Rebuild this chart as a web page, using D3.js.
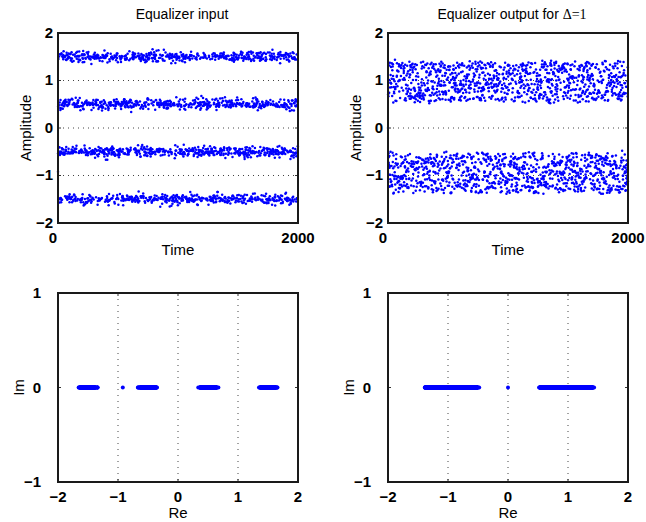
<!DOCTYPE html>
<html>
<head>
<meta charset="utf-8">
<script src="https://cdn.jsdelivr.net/npm/d3@7"></script>
<style>
  html, body { margin: 0; padding: 0; background: #fff; }
  svg { display: block; font-family: "Liberation Sans", Arial, sans-serif; }
</style>
</head>
<body>
<svg id="chart"></svg>
<script>
let blue = "#0000FF";
let frameColor = "#1a1a1a";
let gridColor = "#444";

// NOTE: the 2000 noisy samples per plot can't be read one by one from the picture.
// the dots inside each band are placed with a seeded pseudo-random generator
// (d3.randomLcg). That departs from the "no random numbers" data rule.
const nSamples = 2000;
const inputLevels = [-1.5, -0.5, 0.5, 1.5];   // 4 bands of the equalizer input
const inputNoiseSd = 0.055;                    // spread of each input band
const firstInput = -0.92;                      // lone sample at t = 0
const outputLevels = [-0.94, 0.97];            // 2 bands of the equalizer output
const outputHalfWidth = [0.42, 0.42];          // half-width of each output band
const outputNoiseSd = 0.03;
const firstOutput = 0.0;                       // lone output sample at t = 0

const timeTicks = [0, 2000];
const ampTicks = [-2, -1, 0, 1, 2];
const ampGrid = [-1, 0, 1];
const reTicks = [-2, -1, 0, 1, 2];
const reGrid = [-1, 0, 1];
const imTicks = [-1, 0, 1];

const width = 646;
const height = 522;

const lcg = d3.randomLcg(0.4217);
const normal = d3.randomNormal.source(lcg);
const uniform = d3.randomUniform.source(lcg);
const pick = d3.randomInt.source(lcg);

const inputSeries = d3.range(nSamples).map(i => {
  if (i === 0) return firstInput;
  return inputLevels[pick(0, inputLevels.length)()] + normal(0, inputNoiseSd)();
});

const outputSeries = d3.range(nSamples).map(i => {
  if (i === 0) return firstOutput;
  const k = pick(0, outputLevels.length)();
  const hw = outputHalfWidth[k];
  return outputLevels[k] + uniform(-hw, hw)() + normal(0, outputNoiseSd)();
});

const svg = d3.select("#chart")
  .attr("width", width)
  .attr("height", height);

const panels = [
  { x0: 58, x1: 298, y0: 33, y1: 223, kind: "time", data: inputSeries,
    title: [{ t: "Equalizer input" }], ylab: "Amplitude" },
  { x0: 388, x1: 628, y0: 33, y1: 223, kind: "time", data: outputSeries,
    title: [{ t: "Equalizer output for " }, { t: "\u0394=1", serif: true }], ylab: "Amplitude" },
  { x0: 58, x1: 298, y0: 293, y1: 482, kind: "plane", data: inputSeries, ylab: "Im" },
  { x0: 388, x1: 628, y0: 293, y1: 482, kind: "plane", data: outputSeries, ylab: "Im" }
];

panels.forEach(drawPanel);

function drawPanel(p) {
  const g = svg.append("g");
  const isTime = p.kind === "time";

  const xScale = d3.scaleLinear()
    .domain(isTime ? [0, nSamples] : [-2, 2])
    .range([p.x0, p.x1]);

  const yScale = d3.scaleLinear()
    .domain(isTime ? [-2, 2] : [-1, 1])
    .range([p.y1, p.y0]);

  //grid
  if (isTime) {
    g.selectAll(".hgrid")
      .data(ampGrid)
      .enter()
      .append("line")
      .attr("x1", p.x0).attr("x2", p.x1)
      .attr("y1", d => yScale(d)).attr("y2", d => yScale(d))
      .attr("stroke", gridColor)
      .attr("stroke-width", 1)
      .attr("stroke-dasharray", "1,4");
  } else {
    g.selectAll(".vgrid")
      .data(reGrid)
      .enter()
      .append("line")
      .attr("x1", d => xScale(d)).attr("x2", d => xScale(d))
      .attr("y1", p.y0).attr("y2", p.y1)
      .attr("stroke", gridColor)
      .attr("stroke-width", 1)
      .attr("stroke-dasharray", "1,5");
  }

  //inward ticks on all sides
  const xt = isTime ? timeTicks : reTicks;
  const yt = isTime ? ampTicks : imTicks;
  xt.forEach(v => {
    [[p.y1, -3], [p.y0, 3]].forEach(([y, l]) => {
      g.append("line")
        .attr("x1", xScale(v)).attr("x2", xScale(v))
        .attr("y1", y).attr("y2", y + l)
        .attr("stroke", "#333");
    });
  });
  yt.forEach(v => {
    [[p.x0, 3], [p.x1, -3]].forEach(([x, l]) => {
      g.append("line")
        .attr("x1", x).attr("x2", x + l)
        .attr("y1", yScale(v)).attr("y2", yScale(v))
        .attr("stroke", "#333");
    });
  });

  //points
  g.selectAll(".pt")
    .data(p.data)
    .enter()
    .append("circle")
    .attr("cx", (d, i) => isTime ? xScale(i) : xScale(d))
    .attr("cy", (d) => isTime ? yScale(d) : yScale(0))
    .attr("r", isTime ? 1.25 : 2)
    .attr("fill", blue);

  //frame
  g.append("rect")
    .attr("x", p.x0).attr("y", p.y0)
    .attr("width", p.x1 - p.x0).attr("height", p.y1 - p.y0)
    .attr("fill", "none")
    .attr("stroke", frameColor)
    .attr("stroke-width", 2);

  //tick labels
  const fmt = d3.format("d");
  g.selectAll(".xlab")
    .data(xt)
    .enter()
    .append("text")
    .attr("x", d => xScale(d) + (isTime && d === 0 ? -5 : 0))
    .attr("y", p.y1 + 20)
    .attr("text-anchor", "middle")
    .style("font-size", "15px")
    .style("font-weight", "bold")
    .text(d => fmt(d));

  g.selectAll(".ylab")
    .data(yt)
    .enter()
    .append("text")
    .attr("x", p.x0 - (isTime ? 5 : 17))
    .attr("y", d => yScale(d))
    .attr("dy", isTime ? "0.3em" : "0.36em")
    .attr("text-anchor", "end")
    .style("font-size", "15px")
    .style("font-weight", "bold")
    .text(d => fmt(d));

  //axis titles
  const cx = (p.x0 + p.x1) / 2;
  const cy = (p.y0 + p.y1) / 2;
  g.append("text")
    .attr("x", cx)
    .attr("y", p.y1 + (isTime ? 32 : 36))
    .attr("text-anchor", "middle")
    .style("font-size", "15px")
    .text(isTime ? "Time" : "Re");

  g.append("text")
    .attr("transform", `translate(${p.x0 - (isTime ? 27 : 34)}, ${cy}) rotate(-90)`)
    .attr("text-anchor", "middle")
    .style("font-size", "15px")
    .text(p.ylab);

  if (p.title) {
    const t = g.append("text")
      .attr("x", cx + 4)
      .attr("y", 19)
      .attr("text-anchor", "middle")
      .style("font-size", "14px");
    p.title.forEach(part => {
      t.append("tspan")
        .style("font-family", part.serif ? "'Liberation Serif', 'Times New Roman', serif" : null)
        .text(part.t);
    });
  }
}
</script>
</body>
</html>
